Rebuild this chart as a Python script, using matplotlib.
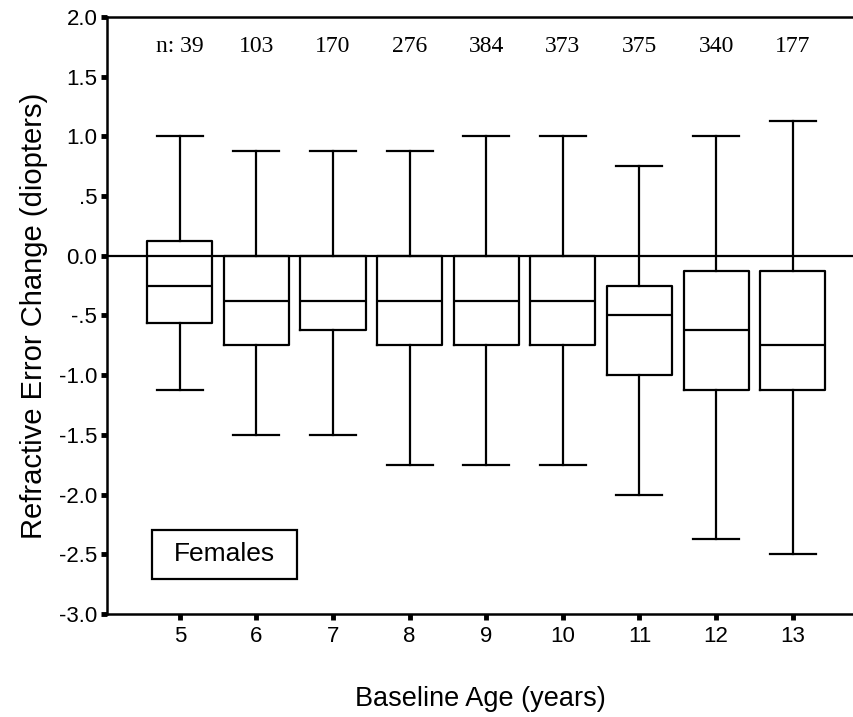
import matplotlib
matplotlib.use("Agg")
import matplotlib.pyplot as plt
from matplotlib.patches import Rectangle

ages = [5, 6, 7, 8, 9, 10, 11, 12, 13]
n_counts = [39, 103, 170, 276, 384, 373, 375, 340, 177]
whislo = [-1.125, -1.5, -1.5, -1.75, -1.75, -1.75, -2.0, -2.375, -2.5]
q1 = [-0.5625, -0.75, -0.625, -0.75, -0.75, -0.75, -1.0, -1.125, -1.125]
med = [-0.25, -0.375, -0.375, -0.375, -0.375, -0.375, -0.5, -0.625, -0.75]
q3 = [0.125, 0.0, 0.0, 0.0, 0.0, 0.0, -0.25, -0.125, -0.125]
whishi = [1.0, 0.875, 0.875, 0.875, 1.0, 1.0, 0.75, 1.0, 1.125]
yticks = [2.0, 1.5, 1.0, 0.5, 0.0, -0.5, -1.0, -1.5, -2.0, -2.5, -3.0]
ytick_labels = ["2.0", "1.5", "1.0", ".5", "0.0", "-.5", "-1.0", "-1.5", "-2.0", "-2.5", "-3.0"]

sans = ["Liberation Sans", "DejaVu Sans"]
serif = ["Liberation Serif", "DejaVu Serif"]

fig = plt.figure(figsize=(8.54, 7.17), dpi=100)
ax = fig.add_axes([107/854, 1 - 614/717, 1 - 107/854, (614 - 17)/717])

stats = []
for i in range(len(ages)):
    stats.append(dict(whislo=whislo[i], q1=q1[i], med=med[i], q3=q3[i],
                      whishi=whishi[i], fliers=[]))
lw = 1.6
ax.bxp(stats, positions=ages, widths=0.85, showfliers=False,
       boxprops=dict(color="black", linewidth=lw),
       medianprops=dict(color="black", linewidth=lw),
       whiskerprops=dict(color="black", linewidth=lw),
       capprops=dict(color="black", linewidth=lw),
       capwidths=0.6, manage_ticks=False, zorder=3)

ax.axhline(0, color="black", linewidth=lw, zorder=2)

ax.set_xlim(4.05, 13.8)
ax.set_ylim(-3.0, 2.0)
ax.set_xticks(ages)
ax.set_xticklabels([str(a) for a in ages], fontfamily=sans, fontsize=16)
ax.set_yticks(yticks)
ax.set_yticklabels(ytick_labels, fontfamily=sans, fontsize=16)
ax.tick_params(axis="both", direction="out", length=4, width=3.5)
ax.tick_params(axis="y", pad=3)
ax.tick_params(axis="x", pad=5)

ax.spines["right"].set_visible(False)
for s in ["left", "bottom", "top"]:
    ax.spines[s].set_linewidth(1.8)

for i, a in enumerate(ages):
    label = ("n: " if i == 0 else "") + str(n_counts[i])
    ax.text(a, 1.75, label, ha="center", va="center", fontfamily=serif, fontsize=17)

ax.add_patch(Rectangle((4.634, -2.705), 6.527 - 4.634, 2.705 - 2.295,
                       facecolor="white", edgecolor="black", linewidth=1.6, zorder=4))
ax.text((4.634 + 6.527) / 2, -2.5, "Females", ha="center", va="center",
        fontfamily=sans, fontsize=19, zorder=5)

ax.set_ylabel("Refractive Error Change (diopters)", fontfamily=sans, fontsize=21, labelpad=8)
ax.set_xlabel("Baseline Age (years)", fontfamily=sans, fontsize=19.5, labelpad=28)

fig.savefig("out.png", dpi=100)
